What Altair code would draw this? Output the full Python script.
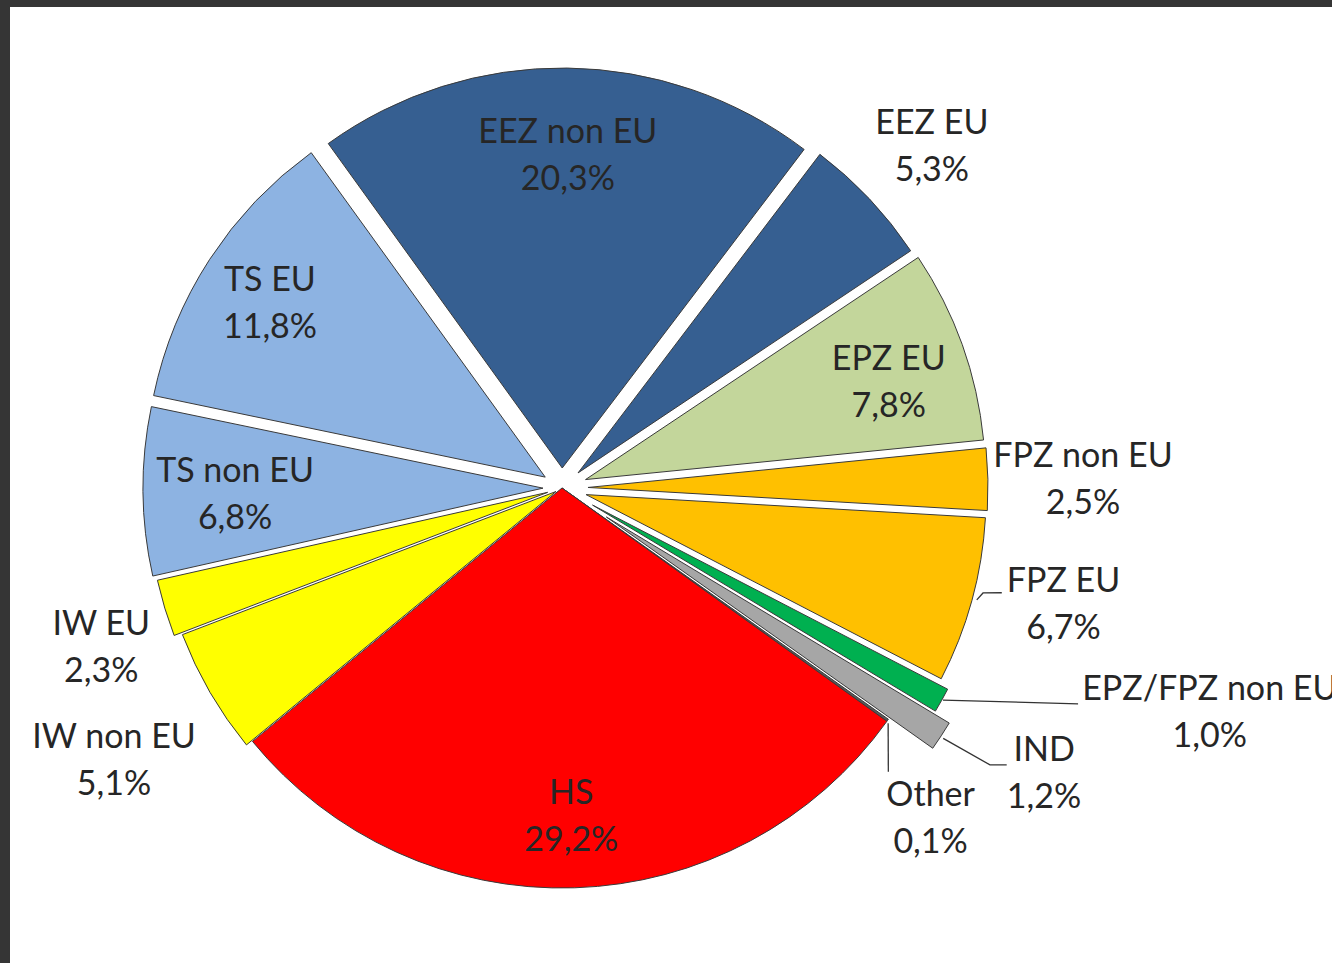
import math
import altair as alt
import pandas as pd

# ---------------- data ----------------
categories = ["EEZ non EU", "EEZ EU", "EPZ EU", "FPZ non EU", "FPZ EU",
              "EPZ/FPZ non EU", "IND", "Other", "HS", "IW non EU", "IW EU",
              "TS non EU", "TS EU"]
shares = [20.3, 5.3, 7.8, 2.5, 6.7, 1.0, 1.2, 0.1, 29.2, 5.1, 2.3, 6.8, 11.8]
colors = ["#365F91", "#365F91", "#C3D69B", "#FFC000", "#FFC000", "#00B050",
          "#A6A6A6", "#595959", "#FF0000", "#FFFF00", "#FFFF00", "#8DB3E2",
          "#8DB3E2"]

# ---------------- layout (styles / positions) ----------------
explode_px = [20, 22, 25, 26, 25, 35, 53, 0, 0, 7, 15, 19, 20]
label_radius = [332, 503, 343, 521, 515, 686, 561, 496, 330, 525, 488, 327, 345]
label_shift_deg = [0.3, 0.6, 2.0, 0.4, -2.2, -10.0, -2.4, 6.5, 0.2, -1.3, -2.4, -0.8, -0.8]

leader_cat = ["FPZ EU", "FPZ EU", "FPZ EU",
              "EPZ/FPZ non EU", "EPZ/FPZ non EU",
              "IND", "IND", "IND",
              "Other", "Other"]
leader_seq = [0, 1, 2, 0, 1, 0, 1, 2, 0, 1]
leader_deg = [105.1, 104.0, 103.4, 119.1, 112.7, 123.3, 122.9, 121.9, 125.8, 131.0]
leader_rad = [429.6, 433.9, 452.1, 436.0, 559.4, 456.1, 509.7, 523.8, 402.1, 432.4]

START_DEG = -35.8
CX, CY = 552, 481
R = 400
TOTAL = sum(shares)
A0 = START_DEG * math.pi / 180

FONT = "Lato"
FS = 34
TXT = "#262626"

df = pd.DataFrame({
    "cat": categories,
    "share": shares,
    "order": list(range(len(categories))),
    "explode": explode_px,
    "lr": label_radius,
    "ldeg": label_shift_deg,
})

base = (
    alt.Chart(df)
    .transform_stack(stack="share", groupby=[], as_=["s0", "s1"],
                     sort=[alt.SortField("order")])
    .transform_calculate(
        mid=f"{A0} + (datum.s0 + datum.s1) / 2 / {TOTAL} * 2 * PI",
        px=f"{CX} + datum.explode * sin(datum.mid)",
        py=f"{CY} - datum.explode * cos(datum.mid)",
        la="datum.mid + datum.ldeg * PI / 180",
        lx=f"{CX} + datum.lr * sin(datum.la)",
        ly=f"{CY} - datum.lr * cos(datum.la)",
        pct="replace(format(datum.share, '.1f'), '.', ',') + '%'",
    )
)

arcs = base.mark_arc(outerRadius=R, stroke="#3a3a3a", strokeWidth=1).encode(
    theta=alt.Theta("s0:Q", scale=alt.Scale(domain=[0, TOTAL],
                                            range=[A0, A0 + 2 * math.pi])),
    theta2="s1:Q",
    x=alt.X("px:Q", scale=None, axis=None),
    y=alt.Y("py:Q", scale=None, axis=None),
    color=alt.Color("cat:N", scale=alt.Scale(domain=categories, range=colors),
                    legend=None),
)

names = base.mark_text(font=FONT, fontSize=FS, color=TXT, dy=-23.5,
                       align="center", baseline="middle").encode(
    x=alt.X("lx:Q", scale=None, axis=None),
    y=alt.Y("ly:Q", scale=None, axis=None),
    text="cat:N",
)
pcts = base.mark_text(font=FONT, fontSize=FS, color=TXT, dy=23.5,
                      align="center", baseline="middle").encode(
    x=alt.X("lx:Q", scale=None, axis=None),
    y=alt.Y("ly:Q", scale=None, axis=None),
    text="pct:N",
)

ldf = pd.DataFrame({"cat": leader_cat, "seq": leader_seq,
                    "deg": leader_deg, "rad": leader_rad})
leaders = (
    alt.Chart(ldf)
    .transform_calculate(
        a="datum.deg * PI / 180",
        x=f"{CX} + datum.rad * sin(datum.a)",
        y=f"{CY} - datum.rad * cos(datum.a)",
    )
    .mark_line(color="#333333", strokeWidth=1.3)
    .encode(
        x=alt.X("x:Q", scale=None, axis=None),
        y=alt.Y("y:Q", scale=None, axis=None),
        detail="cat:N",
        order="seq:Q",
    )
)

chart = (
    alt.layer(arcs, leaders, names, pcts)
    .properties(width=1322, height=956,
                padding={"left": 10, "top": 7, "right": 0, "bottom": 0},
                autosize="none", background="#353535")
    .configure_view(fill="white", strokeWidth=0)
)

chart.save("out.html", embed_options={"renderer": "svg", "actions": False})
